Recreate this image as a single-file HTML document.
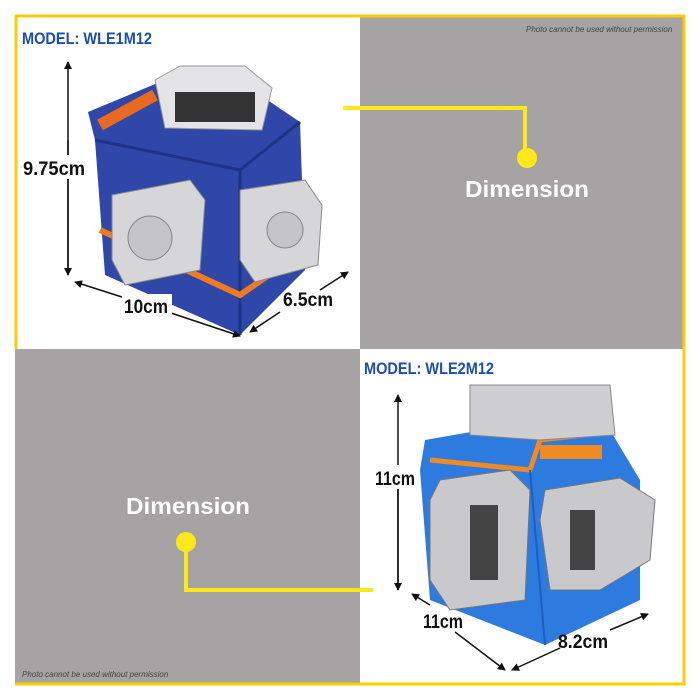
<!DOCTYPE html>
<html><head><style>
html,body{margin:0;padding:0;background:#fff;width:700px;height:700px;overflow:hidden}
svg{display:block}
text{font-family:"Liberation Sans",sans-serif}
</style></head><body>
<svg width="700" height="700" viewBox="0 0 700 700" xmlns="http://www.w3.org/2000/svg">
<defs>
<marker id="ah" markerWidth="8" markerHeight="8" refX="7" refY="4" orient="auto" markerUnits="userSpaceOnUse">
<path d="M0,0 L8,4 L0,8 z" fill="#111"/></marker>
</defs>
<rect x="0" y="0" width="700" height="700" fill="#fff"/>
<!-- quadrants -->
<rect x="360" y="17" width="324" height="332" fill="#a5a3a4"/>
<rect x="15" y="349" width="345" height="334" fill="#a5a3a4"/>
<!-- yellow border -->
<path d="M16,349 L16,16 L684,16 L684,684 L360,684" fill="none" stroke="#ffcc00" stroke-width="3"/>
<path d="M15,684 L360,684" stroke="#ffcc00" stroke-width="3"/>

<text x="22" y="44" font-size="17" font-weight="bold" fill="#1a4fb0" textLength="130" lengthAdjust="spacingAndGlyphs">MODEL: WLE1M12</text>
<text x="526" y="32" font-size="8" font-style="italic" fill="#444">Photo cannot be used without permission</text>
<text x="22" y="677" font-size="8" font-style="italic" fill="#444">Photo cannot be used without permission</text>
<text x="364" y="374" font-size="17" font-weight="bold" fill="#1a4fb0" textLength="130" lengthAdjust="spacingAndGlyphs">MODEL: WLE2M12</text>

<!-- device 1 -->
<path d="M88,112 L160,82 L260,95 L300,122 L305,270 L240,335 L105,275 L95,140 z" fill="#2e47a8"/>
<path d="M95,140 L240,170 L300,122" fill="none" stroke="#1d3388" stroke-width="3"/>
<path d="M240,170 L240,335" stroke="#1d3388" stroke-width="3"/>
<path d="M100,230 L240,295 L305,250" fill="none" stroke="#f07a22" stroke-width="6"/>
<path d="M155,80 L180,66 L245,66 L272,88 L262,130 L165,128 z" fill="#e4e4e6" stroke="#999"/>
<rect x="175" y="92" width="80" height="30" fill="#333"/>
<path d="M112,195 L190,180 L205,200 L200,270 L125,285 L112,260 z" fill="#d6d6d8" stroke="#888"/>
<circle cx="150" cy="238" r="22" fill="#c5c5c7" stroke="#888"/>
<path d="M240,190 L305,180 L322,205 L318,265 L255,282 L240,260 z" fill="#d6d6d8" stroke="#888"/>
<circle cx="285" cy="230" r="18" fill="#c5c5c7" stroke="#888"/>
<path d="M100,125 L155,95" stroke="#e86a20" stroke-width="12"/>
<!-- dim 1 -->
<line x1="68" y1="275" x2="68" y2="62" stroke="#111" stroke-width="1.5" marker-end="url(#ah)"/>
<line x1="68" y1="140" x2="68" y2="275" stroke="#111" stroke-width="1.5" marker-end="url(#ah)"/>
<rect x="22" y="155" width="66" height="24" fill="#fff"/>
<text x="23" y="175" font-size="19" font-weight="bold" fill="#111" textLength="62" lengthAdjust="spacingAndGlyphs">9.75cm</text>
<line x1="150" y1="306" x2="75" y2="282" stroke="#111" stroke-width="1.5" marker-end="url(#ah)"/>
<line x1="150" y1="306" x2="240" y2="336" stroke="#111" stroke-width="1.5" marker-end="url(#ah)"/>
<rect x="122" y="294" width="50" height="24" fill="#fff"/>
<text x="124" y="313" font-size="19" font-weight="bold" fill="#111" textLength="44" lengthAdjust="spacingAndGlyphs">10cm</text>
<line x1="280" y1="312" x2="250" y2="332" stroke="#111" stroke-width="1.5" marker-end="url(#ah)"/>
<line x1="320" y1="290" x2="348" y2="272" stroke="#111" stroke-width="1.5" marker-end="url(#ah)"/>
<text x="283" y="306" font-size="19" font-weight="bold" fill="#111" textLength="50" lengthAdjust="spacingAndGlyphs">6.5cm</text>

<!-- connectors -->
<path d="M343,108 L525,108 L525,158" fill="none" stroke="#ffe81a" stroke-width="4"/>
<circle cx="527" cy="158" r="10" fill="#ffe81a"/>
<text x="465" y="197" font-size="23" font-weight="bold" fill="#fff" textLength="124" lengthAdjust="spacingAndGlyphs">Dimension</text>
<text x="126" y="514" font-size="23" font-weight="bold" fill="#fff" textLength="124" lengthAdjust="spacingAndGlyphs">Dimension</text>
<path d="M186,542 L186,590 L373,590" fill="none" stroke="#ffe81a" stroke-width="4"/>
<circle cx="186" cy="542" r="10" fill="#ffe81a"/>

<!-- device 2 -->
<path d="M425,440 L540,420 L610,430 L640,480 L640,600 L545,645 L430,600 L420,470 z" fill="#2e7be0"/>
<path d="M430,460 L530,470 L540,440 L610,432" fill="none" stroke="#f08a22" stroke-width="5"/>
<path d="M530,470 L545,645" stroke="#1c5fc0" stroke-width="2"/>
<path d="M470,385 L610,385 L615,435 L540,440 L470,435 z" fill="#cfcfd1" stroke="#888"/>
<path d="M440,480 L510,470 L530,490 L525,600 L450,610 L430,580 L430,500 z" fill="#c9c9cb" stroke="#777"/>
<rect x="470" y="505" width="28" height="75" fill="#444"/>
<path d="M545,490 L620,478 L655,500 L650,560 L600,590 L550,590 L540,520 z" fill="#c9c9cb" stroke="#777"/>
<rect x="570" y="510" width="25" height="60" fill="#444"/>
<rect x="540" y="445" width="62" height="14" fill="#f08a22"/>
<!-- dim 2 -->
<line x1="398" y1="590" x2="398" y2="395" stroke="#111" stroke-width="1.5" marker-end="url(#ah)"/>
<line x1="398" y1="480" x2="398" y2="590" stroke="#111" stroke-width="1.5" marker-end="url(#ah)"/>
<rect x="373" y="465" width="46" height="24" fill="#fff"/>
<text x="375" y="485" font-size="19" font-weight="bold" fill="#111" textLength="40" lengthAdjust="spacingAndGlyphs">11cm</text>
<line x1="455" y1="632" x2="505" y2="670" stroke="#111" stroke-width="1.5" marker-end="url(#ah)"/>
<line x1="430" y1="605" x2="412" y2="594" stroke="#111" stroke-width="1.5" marker-end="url(#ah)"/>
<text x="423" y="628" font-size="19" font-weight="bold" fill="#111" textLength="40" lengthAdjust="spacingAndGlyphs">11cm</text>
<line x1="560" y1="648" x2="512" y2="670" stroke="#111" stroke-width="1.5" marker-end="url(#ah)"/>
<line x1="610" y1="630" x2="648" y2="614" stroke="#111" stroke-width="1.5" marker-end="url(#ah)"/>
<text x="558" y="648" font-size="19" font-weight="bold" fill="#111" textLength="50" lengthAdjust="spacingAndGlyphs">8.2cm</text>
</svg>
</body></html>
